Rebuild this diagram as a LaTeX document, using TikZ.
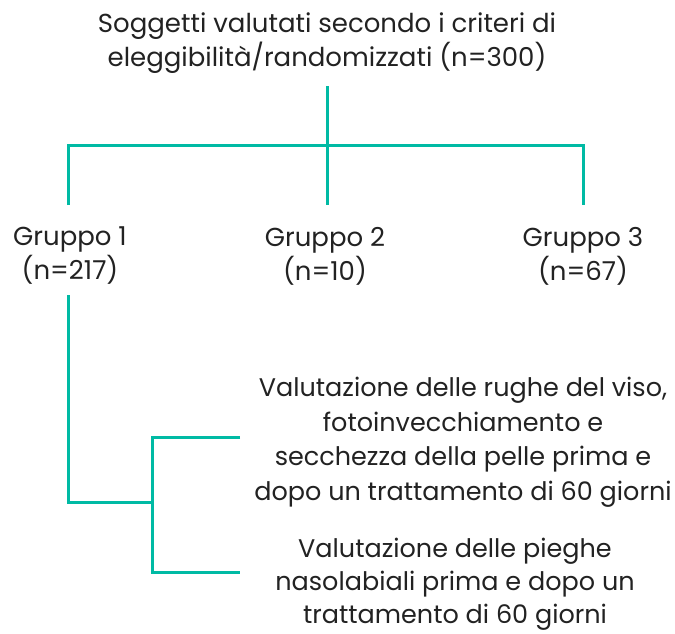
\documentclass[tikz,border=0pt]{standalone}
\usepackage{fontspec}
\setmainfont{Poppins}
\definecolor{teal1}{RGB}{0,186,164}
\definecolor{txt}{RGB}{34,34,34}
\begin{document}
\begin{tikzpicture}[x=1pt,y=-1pt,
  lbl/.style={align=center,text=txt,inner sep=0pt,font=\fontsize{26}{34}\selectfont},
  conn/.style={draw=teal1,line width=3pt}]
\useasboundingbox (0,0) rectangle (675,633);
\node[lbl] (top) at (327,43) {Soggetti valutati secondo i criteri di\\eleggibilità/randomizzati (n=300)};
\node[lbl] (g1) at (70,256) {Gruppo 1\\(n=217)};
\node[lbl] (g2) at (325,256) {Gruppo 2\\(n=10)};
\node[lbl] (g3) at (583,256) {Gruppo 3\\(n=67)};
\node[lbl,font=\fontsize{25.5}{34.5}\selectfont] (v1) at (463,442) {Valutazione delle rughe del viso,\\fotoinvecchiamento e\\secchezza della pelle prima e\\dopo un trattamento di 60 giorni};
\node[lbl,font=\fontsize{25.5}{33}\selectfont] (v2) at (455,584) {Valutazione delle pieghe\\nasolabiali prima e dopo un\\trattamento di 60 giorni};
\coordinate (t0) at (327,86);
\coordinate (j0) at (327,145);
\coordinate (e1) at (68,205);
\coordinate (e2) at (327,205);
\coordinate (e3) at (583,205);
\coordinate (s1) at (68,295);
\coordinate (k1) at (152,502);
\coordinate (a1) at (240,437);
\coordinate (a2) at (240,572);
\draw[conn] (t0) -- (j0);
\draw[conn] (e1) -- (e1 |- j0) -- (e3 |- j0) -- (e3);
\draw[conn] (j0) -- (e2);
\draw[conn] (s1) -- (s1 |- k1) -- (k1);
\draw[conn] (a1) -- (k1 |- a1) -- (k1 |- a2) -- (a2);
\end{tikzpicture}
\end{document}
